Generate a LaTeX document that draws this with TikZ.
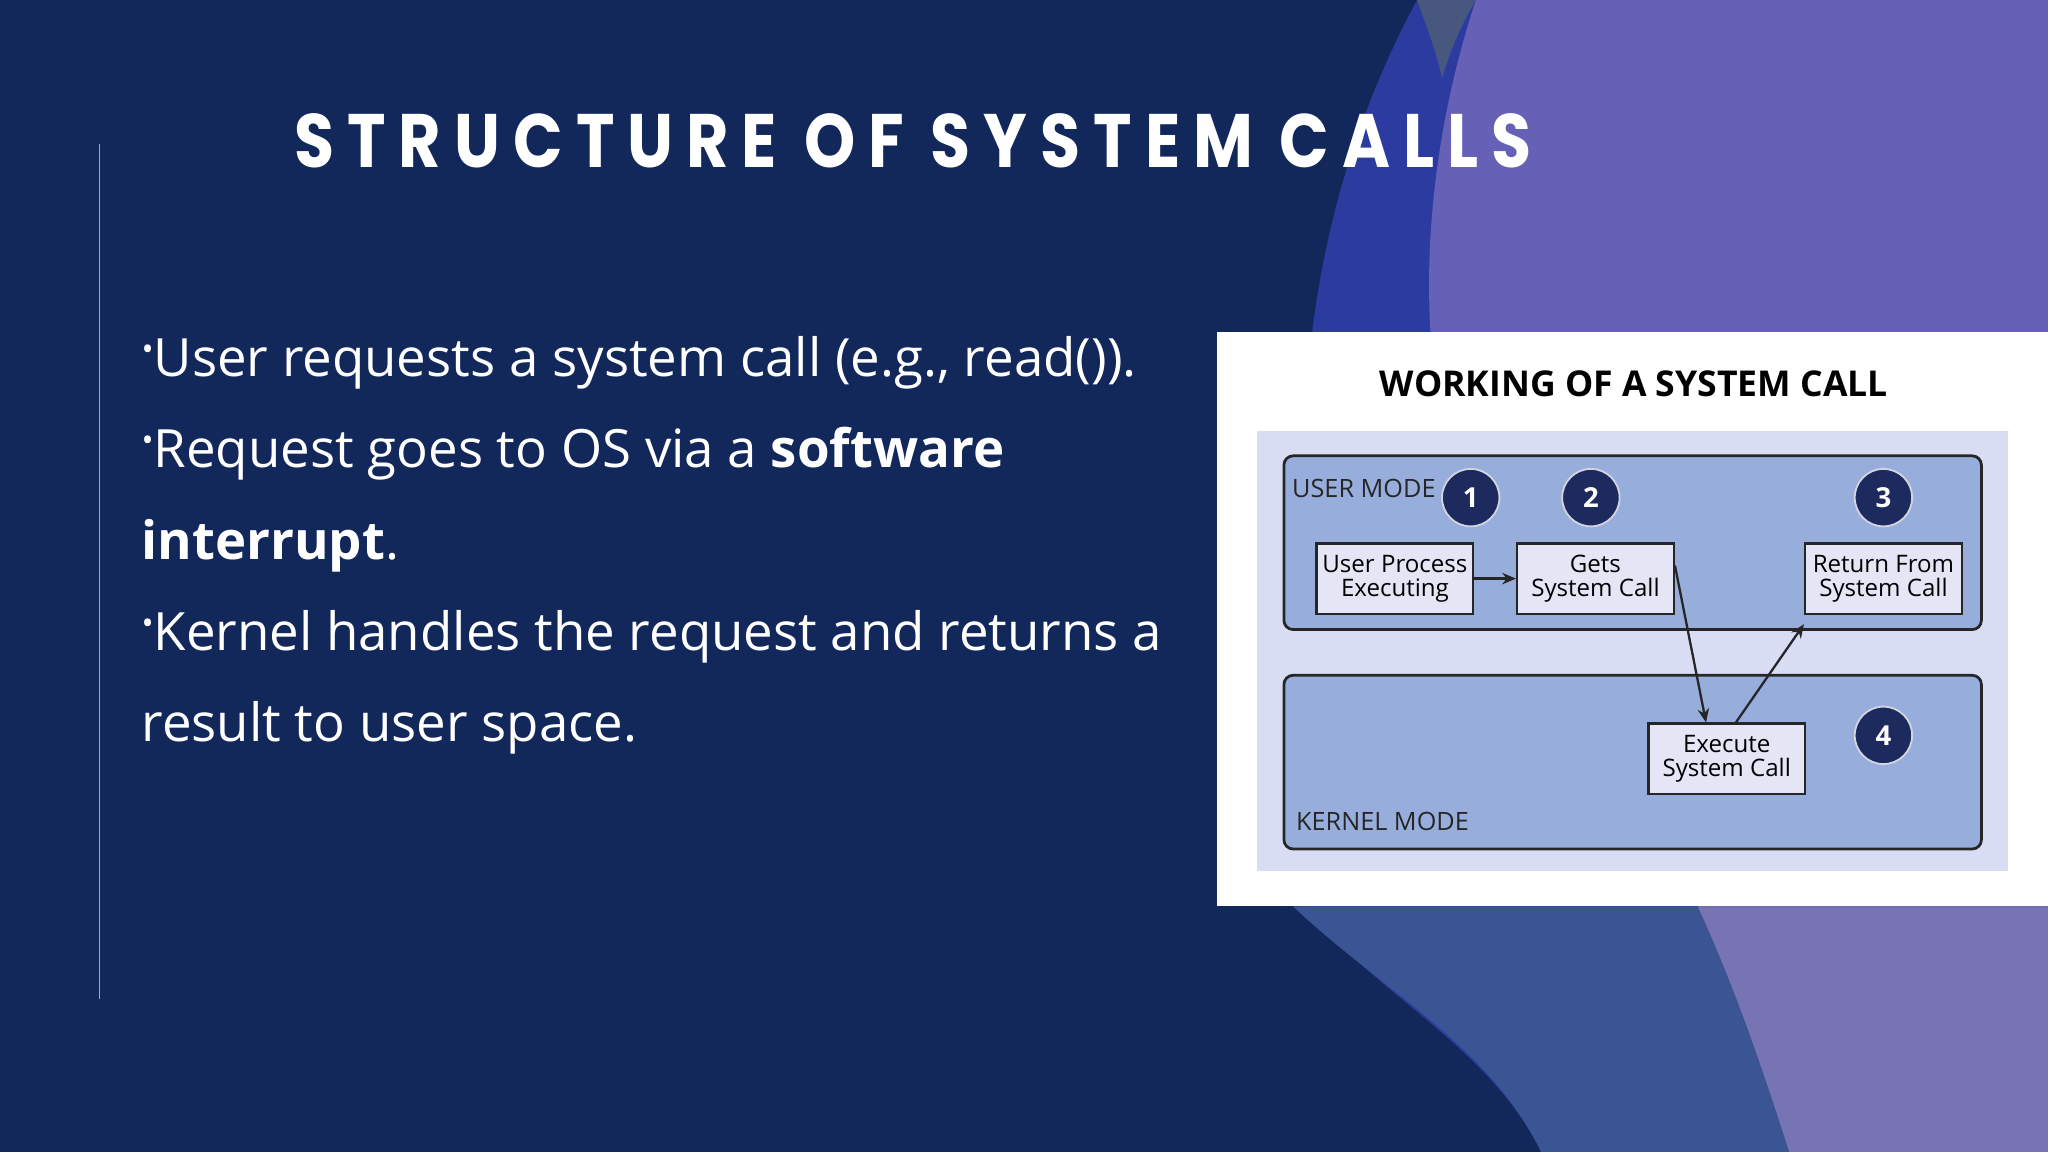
\documentclass[tikz,border=0pt]{standalone}
\usepackage{fontspec}
\setmainfont{Open Sans}
\newfontfamily\titlefont[LetterSpace=20]{Poppins}
\usetikzlibrary{arrows.meta}
\definecolor{navy}{HTML}{13285A}
\definecolor{wblue}{HTML}{2C3BA0}
\definecolor{wsteel}{HTML}{3A5494}
\definecolor{wpurple}{HTML}{6660B6}
\definecolor{wlilac}{HTML}{7874B4}
\definecolor{panel}{HTML}{D9DDF3}
\definecolor{modebox}{HTML}{97AEDC}
\definecolor{boxfill}{HTML}{E4E6F6}
\definecolor{circ}{HTML}{1D2A5E}
\tikzset{
  modefr/.style={draw=black!85, line width=1.2pt, rounded corners=4pt, fill=modebox},
  stepbox/.style={draw=black!85, line width=1pt, fill=boxfill, minimum width=2.4cm, minimum height=1.08cm, inner sep=1pt, align=center, font=\fontsize{10.5}{10.5}\selectfont, text=black},
  num/.style={circle, fill=circ, draw=white!80!circ, line width=0.8pt, minimum size=0.88cm, inner sep=0pt, text=white, font=\fontsize{12}{12}\selectfont\bfseries},
  arr/.style={-{Stealth[length=6pt,width=5pt]}, line width=1pt, black!85},
  bul/.style={anchor=base west, text=white, font=\fontsize{23}{23}\selectfont}
}
\newcommand{\bdot}{\raisebox{0.3em}{\fontsize{14}{14}\selectfont•}}
\begin{document}
\begin{tikzpicture}[x={(0.02cm,0)}, y={(0,-0.02cm)}]
\useasboundingbox (0,0) rectangle (1568,882);
\fill[navy] (0,0) rectangle (1568,882);
% waves
\fill[wblue] (1085,0) .. controls (1020,120) and (990,260) .. (1000,420) -- (1000,694) .. controls (1050,760) and (1140,800) .. (1180,882) -- (1568,882) -- (1568,0) -- cycle;
\fill[wsteel] (990,694) .. controls (1060,760) and (1140,800) .. (1180,882) -- (1568,882) -- (1568,694) -- cycle;
\fill[white!22!navy] (1085,0) -- (1130,0) .. controls (1118,20) and (1110,40) .. (1104,60) .. controls (1100,40) and (1092,20) .. (1085,0) -- cycle;
\fill[wpurple] (1130,0) .. controls (1100,90) and (1085,200) .. (1100,300) -- (1300,694) -- (1300,694) .. controls (1330,760) and (1350,820) .. (1370,882) -- (1568,882) -- (1568,0) -- cycle;
\fill[wlilac] (1300,694) .. controls (1330,760) and (1350,820) .. (1370,882) -- (1568,882) -- (1568,694) -- cycle;
% left rule
\draw[white!60!navy, line width=0.6pt] (76,110) -- (76,765);
% title
\node[anchor=base west, text=white, inner sep=0pt, font=\titlefont\fontsize{33}{33}\selectfont\bfseries] (title) at (225,128) {\scalebox{0.86}[1]{STRUCTURE OF SYSTEM CALLS}};
% bullets
\node[bul, inner sep=0pt] (b1) at (108,288) {\bdot User requests a system call (e.g., read()).};
\node[bul, inner sep=0pt] (b2) at (108,358) {\bdot Request goes to OS via a \textbf{software}};
\node[bul, inner sep=0pt] (b3) at (108,428) {\textbf{interrupt}.};
\node[bul, inner sep=0pt] (b4) at (108,498) {\bdot Kernel handles the request and returns a};
\node[bul, inner sep=0pt] (b5) at (108,568) {result to user space.};
% diagram panel
\fill[white] (932,254) rectangle (1568,694);
\fill[panel] (962,330) rectangle (1537,667);
\node[font=\fontsize{15.5}{15.5}\selectfont\bfseries, text=black] (dt) at (1251,294) {WORKING OF A SYSTEM CALL};
\draw[modefr] (983,349) rectangle (1517,482);
\draw[modefr] (983,517) rectangle (1517,650);
\node[anchor=west, inner sep=0pt, font=\fontsize{11}{11}\selectfont, text=black!85] (um) at (989,374) {USER MODE};
\node[anchor=west, inner sep=0pt, font=\fontsize{11}{11}\selectfont, text=black!85] (km) at (992,629) {KERNEL MODE};
\node[num] (n1) at (1126,381) {1};
\node[num] (n2) at (1218,381) {2};
\node[num] (n3) at (1442,381) {3};
\node[num] (n4) at (1442,563) {4};
\node[stepbox] (upe) at (1068,443) {User Process\\Executing};
\node[stepbox] (gsc) at (1221.5,443) {Gets\\System Call};
\node[stepbox] (rfs) at (1442,443) {Return From\\System Call};
\node[stepbox] (esc) at (1322,581) {Execute\\System Call};
\draw[arr] (upe.east) -- (gsc.west);
\draw[arr] (gsc.east) ++(0,-10) coordinate (g1) -- ([xshift=-9pt]esc.north);
\draw[arr] ([xshift=4pt]esc.north) -- ([yshift=-4pt]rfs.south west);
\end{tikzpicture}
\end{document}
